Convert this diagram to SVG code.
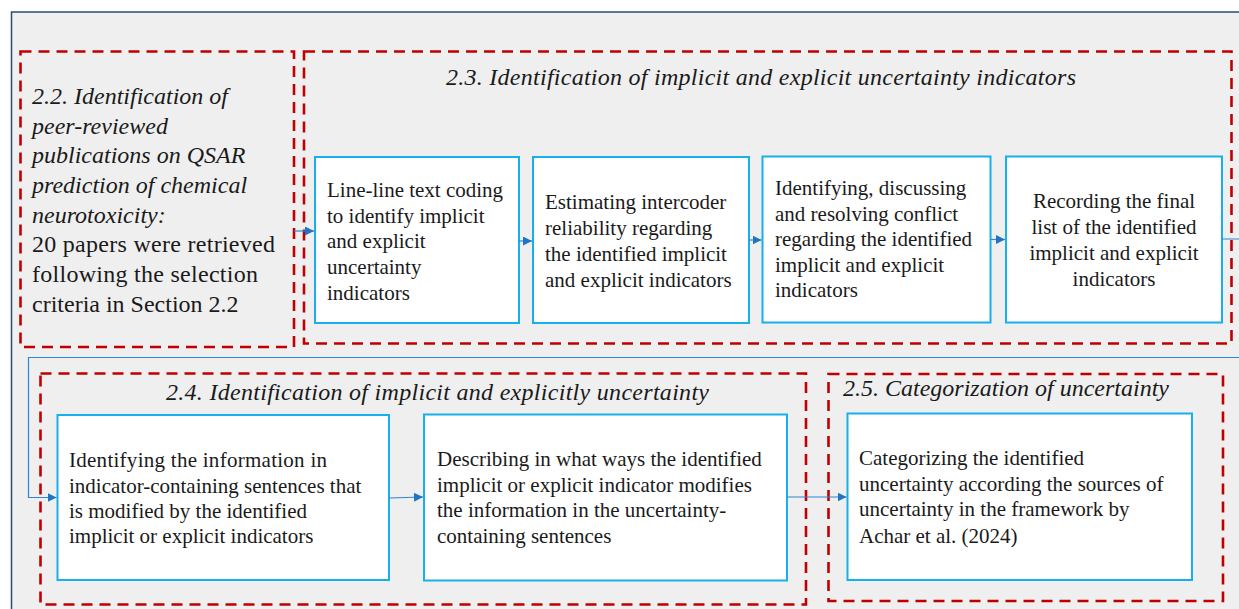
<svg xmlns="http://www.w3.org/2000/svg" width="1239" height="609" viewBox="0 0 1239 609">
<defs>
<style>
.frame{fill:#efefef;stroke:#2b4a74;stroke-width:1.5}
.group{fill:none;stroke:#c00000;stroke-width:2.6;stroke-dasharray:11 7}
.box{fill:#ffffff;stroke:#17b0ec;stroke-width:2}
.t{font-size:21px}
.h{font-size:24px;font-style:italic}
.b{font-size:24px}
.c{fill:none;stroke:#2e86d0;stroke-width:1.2}
</style>
<marker id="arr" viewBox="0 0 10 10" refX="10" refY="5" markerWidth="9" markerHeight="9" markerUnits="userSpaceOnUse" orient="auto">
<path d="M0 0 L10 5 L0 10 z" fill="#1f74c4"/>
</marker>
</defs>
<rect x="0" y="0" width="1239" height="609" fill="#ffffff"/>
<rect class="frame" x="11.5" y="12" width="1240" height="610"/>
<g font-family="Liberation Serif" fill="#1a1a1a">
<g id="g22">
<rect class="group" x="20.5" y="51.5" width="273.5" height="295.5"/>
<text class="h" x="32" y="104">2.2. Identification of</text>
<text class="h" x="32" y="134">peer-reviewed</text>
<text class="h" x="32" y="163">publications on QSAR</text>
<text class="h" x="32" y="193">prediction of chemical</text>
<text class="h" x="32" y="223">neurotoxicity:</text>
<text class="b" x="32" y="252" textLength="243" lengthAdjust="spacing">20 papers were retrieved</text>
<text class="b" x="32" y="282" textLength="226" lengthAdjust="spacing">following the selection</text>
<text class="b" x="32" y="312">criteria in Section 2.2</text>
</g>

<g id="g23">
<rect class="group" x="304" y="51.5" width="927.5" height="292"/>
<text class="h" x="446" y="85" textLength="630" lengthAdjust="spacing">2.3. Identification of implicit and explicit uncertainty indicators</text>
</g>

<g id="b1">
<rect class="box" x="315" y="157" width="204" height="166"/>
<text class="t" x="327" y="197">Line-line text coding</text>
<text class="t" x="327" y="223">to identify implicit</text>
<text class="t" x="327" y="248">and explicit</text>
<text class="t" x="327" y="274">uncertainty</text>
<text class="t" x="327" y="300">indicators</text>
</g>

<g id="b2">
<rect class="box" x="533" y="157" width="216" height="166"/>
<text class="t" x="545" y="209">Estimating intercoder</text>
<text class="t" x="545" y="235">reliability regarding</text>
<text class="t" x="545" y="261">the identified implicit</text>
<text class="t" x="545" y="287">and explicit indicators</text>
</g>

<g id="b3">
<rect class="box" x="762.5" y="156.5" width="228" height="166"/>
<text class="t" x="775" y="195">Identifying, discussing</text>
<text class="t" x="775" y="221">and resolving conflict</text>
<text class="t" x="775" y="246">regarding the identified</text>
<text class="t" x="775" y="272">implicit and explicit</text>
<text class="t" x="775" y="297">indicators</text>
</g>

<g id="b4">
<rect class="box" x="1006" y="156.5" width="216" height="166"/>
<text class="t" x="1114" y="208" text-anchor="middle">Recording the final</text>
<text class="t" x="1114" y="234" text-anchor="middle">list of the identified</text>
<text class="t" x="1114" y="260" text-anchor="middle">implicit and explicit</text>
<text class="t" x="1114" y="286" text-anchor="middle">indicators</text>
</g>

<g id="g24">
<rect class="group" x="40.5" y="373.5" width="765.5" height="231"/>
<text class="h" x="166" y="400" textLength="543" lengthAdjust="spacing">2.4. Identification of implicit and explicitly uncertainty</text>
</g>

<g id="b5">
<rect class="box" x="57.5" y="415" width="331.5" height="165"/>
<text class="t" x="69" y="467" textLength="258" lengthAdjust="spacing">Identifying the information in</text>
<text class="t" x="69" y="493">indicator-containing sentences that</text>
<text class="t" x="69" y="518">is modified by the identified</text>
<text class="t" x="69" y="543">implicit or explicit indicators</text>
</g>

<g id="b6">
<rect class="box" x="424" y="414.5" width="363" height="166"/>
<text class="t" x="437" y="466">Describing in what ways the identified</text>
<text class="t" x="437" y="492">implicit or explicit indicator modifies</text>
<text class="t" x="437" y="517">the information in the uncertainty-</text>
<text class="t" x="437" y="543">containing sentences</text>
</g>

<g id="g25">
<rect class="group" x="828.5" y="374" width="394.5" height="227"/>
<text class="h" x="843" y="396">2.5. Categorization of uncertainty</text>
</g>

<g id="b7">
<rect class="box" x="847.5" y="413.5" width="344.5" height="166.5"/>
<text class="t" x="859" y="465">Categorizing the identified</text>
<text class="t" x="859" y="491">uncertainty according the sources of</text>
<text class="t" x="859" y="516">uncertainty in the framework by</text>
<text class="t" x="859" y="543">Achar et al. (2024)</text>
</g>
</g>
<g id="connectors">
<path class="c" d="M294 231 H314" marker-end="url(#arr)"/>
<path class="c" d="M519 241 H532" marker-end="url(#arr)"/>
<path class="c" d="M749 240 H761.5" marker-end="url(#arr)"/>
<path class="c" d="M990.5 239.5 H1005" marker-end="url(#arr)"/>
<path class="c" d="M1222 239 H1250 V357.5 H28.5 V497.5 H56.5" marker-end="url(#arr)"/>
<path class="c" d="M389 498 L423 497" marker-end="url(#arr)"/>
<path class="c" d="M787 497 H846.5" marker-end="url(#arr)"/>
</g>
</svg>
